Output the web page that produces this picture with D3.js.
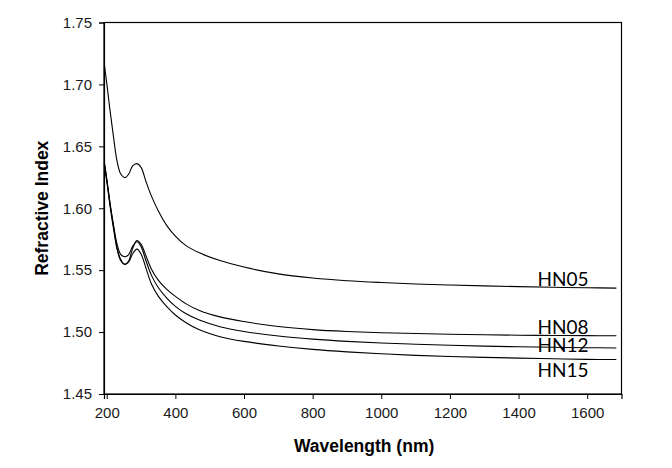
<!DOCTYPE html>
<html>
<head>
<meta charset="utf-8">
<script src="https://cdn.jsdelivr.net/npm/d3@7"></script>
<style>
  html, body { margin: 0; padding: 0; background: #fff; }
  svg { display: block; }
</style>
</head>
<body>
<div id="chart"></div>
<script>
// ---- data ----
const wavelengths = [193, 200, 210, 220, 230, 240, 250, 256, 265, 275, 288, 300, 315, 330, 350, 375, 400, 430, 470, 530, 600, 700, 800, 900, 1000, 1100, 1200, 1300, 1400, 1500, 1600, 1685];
const HN05 = [1.716, 1.701, 1.678, 1.657, 1.638, 1.628, 1.625, 1.625, 1.628, 1.634, 1.636, 1.633, 1.621, 1.610, 1.598, 1.586, 1.5775, 1.570, 1.564, 1.5578, 1.5525, 1.547, 1.5437, 1.5415, 1.540, 1.5388, 1.538, 1.5373, 1.5367, 1.5362, 1.5358, 1.5355];
const HN08 = [1.637, 1.624, 1.603, 1.585, 1.568, 1.559, 1.555, 1.555, 1.558, 1.567, 1.574, 1.571, 1.561, 1.551, 1.542, 1.5345, 1.5288, 1.523, 1.5175, 1.5123, 1.5085, 1.5045, 1.502, 1.5005, 1.4995, 1.4988, 1.4982, 1.4978, 1.4975, 1.4973, 1.4971, 1.497];
const HN12 = [1.636, 1.623, 1.603, 1.586, 1.571, 1.563, 1.561, 1.561, 1.563, 1.569, 1.573, 1.569, 1.557, 1.546, 1.536, 1.5275, 1.5208, 1.515, 1.5097, 1.5043, 1.5005, 1.4968, 1.4943, 1.4925, 1.4912, 1.4902, 1.4894, 1.4887, 1.4881, 1.4877, 1.4874, 1.4872];
const HN15 = [1.635, 1.622, 1.601, 1.583, 1.567, 1.558, 1.555, 1.555, 1.557, 1.563, 1.567, 1.563, 1.551, 1.539, 1.529, 1.5205, 1.5138, 1.5078, 1.5018, 1.4963, 1.4925, 1.4888, 1.486, 1.484, 1.4825, 1.4812, 1.4803, 1.4796, 1.479, 1.4785, 1.478, 1.4778];
const seriesNames = ["HN05", "HN08", "HN12", "HN15"];
const seriesValues = [HN05, HN08, HN12, HN15];
const xTicks = [200, 400, 600, 800, 1000, 1200, 1400, 1600];
const yTicks = [1.45, 1.50, 1.55, 1.60, 1.65, 1.70, 1.75];
const xTitle = "Wavelength (nm)";
const yTitle = "Refractive Index";

// ---- layout / style ----
const W = 672, H = 468;
const m = { left: 104, top: 22.5, right: 50.5, bottom: 74 };
const iw = W - m.left - m.right, ih = H - m.top - m.bottom;
const labelX = 1455;
const labelDy = [-2, -2, 4, 17];

const svg = d3.select("#chart").append("svg").attr("width", W).attr("height", H);
const g = svg.append("g").attr("transform", `translate(${m.left},${m.top})`);

const x = d3.scaleLinear().domain([192, 1700]).range([0, iw]);
const y = d3.scaleLinear().domain([1.45, 1.75]).range([ih, 0]);

// frame
g.append("rect").attr("x", 0).attr("y", 0).attr("width", iw).attr("height", ih)
  .attr("fill", "none").attr("stroke", "#000").attr("stroke-width", 1.2);

const xAxis = g.append("g").attr("transform", `translate(0,${ih})`)
  .call(d3.axisBottom(x).tickValues(xTicks).tickSize(5).tickPadding(8).tickFormat(d3.format("d")));
const yAxis = g.append("g")
  .call(d3.axisLeft(y).tickValues(yTicks).tickSize(5).tickPadding(7).tickFormat(d3.format(".2f")));
[xAxis, yAxis].forEach(a => {
  a.select(".domain").attr("stroke", "#000").attr("stroke-width", 1.2);
  a.selectAll(".tick line").attr("stroke", "#000").attr("stroke-width", 1);
  a.selectAll(".tick text").attr("font-family", "Liberation Sans, Arial, sans-serif")
    .attr("font-size", 15).attr("fill", "#1a1a1a");
});

const line = d3.line().x((d, i) => x(wavelengths[i])).y(d => y(d)).curve(d3.curveCatmullRom.alpha(0.5));
seriesValues.forEach((vals, k) => {
  g.append("path").datum(vals).attr("d", line)
    .attr("fill", "none").attr("stroke", "#000").attr("stroke-width", 1.1);
  g.append("text")
    .attr("x", x(labelX))
    .attr("y", y(vals[vals.length - 1]) + labelDy[k])
    .attr("font-family", "Lato, 'Open Sans', sans-serif")
    .attr("font-size", 19)
    .attr("fill", "#000")
    .text(seriesNames[k]);
});

// axis titles
svg.append("text")
  .attr("x", m.left + x(950)).attr("y", 452)
  .attr("text-anchor", "middle")
  .attr("font-family", "Liberation Sans, Arial, sans-serif")
  .attr("font-weight", "bold").attr("font-size", 17.5)
  .text(xTitle);
svg.append("text")
  .attr("transform", `translate(48,${m.top + y(1.60)}) rotate(-90)`)
  .attr("text-anchor", "middle")
  .attr("font-family", "Liberation Sans, Arial, sans-serif")
  .attr("font-weight", "bold").attr("font-size", 17.5)
  .text(yTitle);
</script>
</body>
</html>
